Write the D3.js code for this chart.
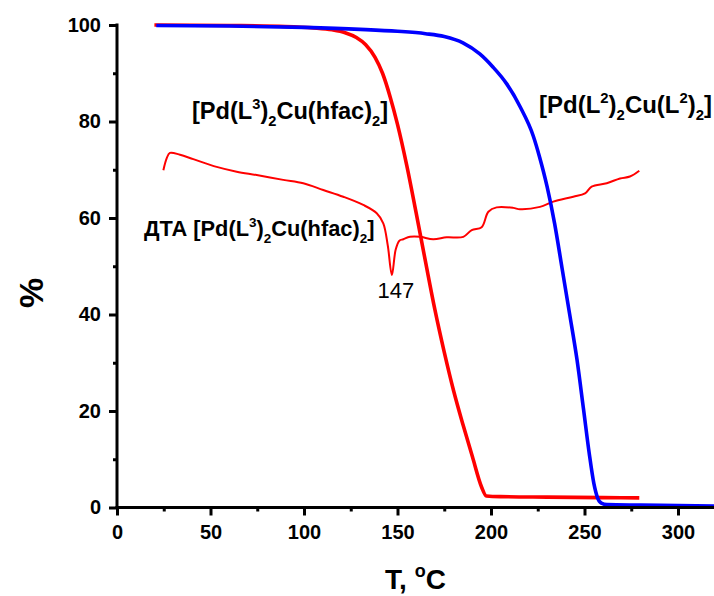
<!DOCTYPE html>
<html>
<head>
<meta charset="utf-8">
<script src="https://cdn.jsdelivr.net/npm/d3@7"></script>
<style>
  html, body { margin: 0; padding: 0; background: #fff; }
  svg { display: block; }
  text { font-family: "Liberation Sans", Arial, sans-serif; fill: #000; }
</style>
</head>
<body>
<svg id="chart" width="714" height="596"></svg>
<script>
// TG curve of [Pd(L3)2Cu(hfac)2]: temperature (°C) and mass (%)
const tgL3Temp = [20, 60, 90, 105, 115, 122, 128, 133, 138, 142, 146, 150, 155, 160, 165, 170, 175, 180, 185, 190, 195, 197.5, 205, 230, 260, 279.3];
const tgL3Mass = [100, 99.9, 99.7, 99.4, 99.0, 98.4, 97.4, 95.9, 93.3, 90.0, 85.2, 79.4, 70.8, 61.0, 50.9, 41.0, 32.2, 24.2, 17.2, 10.6, 4.2, 2.4, 2.25, 2.15, 2.05, 2.0];

// TG curve of [Pd(L2)2Cu(L2)2]
const tgL2Temp = [21, 60, 100, 130, 150, 165, 175, 185, 194, 201, 208.4, 215.5, 222.6, 226, 230, 234, 238, 242, 246, 249.5, 252.5, 255, 257, 259, 262, 280, 300, 320];
const tgL2Mass = [99.9, 99.8, 99.5, 99.1, 98.7, 98.2, 97.6, 96.3, 94.0, 91.3, 87.8, 83.1, 77.0, 72.6, 66.5, 58.9, 49.6, 40.2, 30.6, 20.3, 11.3, 5.0, 2.0, 0.9, 0.6, 0.5, 0.4, 0.3];

// DTA trace of [Pd(L3)2Cu(hfac)2], plotted on the same % scale
const dtaTemp = [24.8, 26.6, 28.3, 33.7, 40.8, 53.3, 64, 74.7, 88.9, 99.6, 110.3, 121, 131.7, 138.9, 142.4, 144.8, 147, 149, 151, 153.1, 156.7, 162, 169.1, 176.3, 185.2, 189.7, 195, 198.6, 203, 211.9, 215.5, 226.2, 233.3, 244, 250.3, 253.8, 261.9, 269, 274.3, 279.3];
const dtaValue = [69.9, 72.4, 73.5, 73.1, 72.2, 70.6, 69.6, 68.9, 67.9, 67.2, 65.8, 64.4, 62.7, 61.0, 58.9, 54.3, 48.2, 53.4, 55.3, 55.6, 56.1, 56.1, 55.6, 56.0, 56.1, 57.5, 58.1, 61.3, 62.2, 62.1, 61.8, 62.3, 63.4, 64.4, 65.1, 66.5, 67.2, 68.2, 68.6, 69.8];

// Peak temperature of the DTA minimum
const dtaPeak = 147;

// Axis ticks
const xMajorTicks = [0, 50, 100, 150, 200, 250, 300];
const xMinorTicks = [25, 75, 125, 175, 225, 275];
const yMajorTicks = [0, 20, 40, 60, 80, 100];
const yMinorTicks = [10, 30, 50, 70, 90];

const svg = d3.select("#chart");

const x = d3.scaleLinear().domain([0, 320]).range([117, 715.4]);
const y = d3.scaleLinear().domain([0, 100]).range([507.5, 25]);

const zip = (a, b) => a.map((v, i) => [v, b[i]]);

// ---- curves ----
const lineSmooth = d3.line().x(d => x(d[0])).y(d => y(d[1])).curve(d3.curveMonotoneX);
const lineDta = d3.line().x(d => x(d[0])).y(d => y(d[1])).curve(d3.curveCatmullRom.alpha(0.5));

svg.append("path")
  .attr("d", lineDta(zip(dtaTemp, dtaValue)))
  .attr("fill", "none").attr("stroke", "#ff0000").attr("stroke-width", 2)
  .attr("stroke-linejoin", "round");

svg.append("path")
  .attr("d", lineSmooth(zip(tgL3Temp, tgL3Mass)))
  .attr("fill", "none").attr("stroke", "#ff0000").attr("stroke-width", 3.6)
  .attr("stroke-linejoin", "round");

svg.append("path")
  .attr("d", lineSmooth(zip(tgL2Temp, tgL2Mass)))
  .attr("fill", "none").attr("stroke", "#0000ff").attr("stroke-width", 3.6)
  .attr("stroke-linejoin", "round");

// ---- axes ----
const xAxis = svg.append("g").attr("transform", `translate(0,${y(0)})`);
xAxis.call(d3.axisBottom(x).tickValues(xMajorTicks).tickSize(8).tickPadding(9).tickFormat(d3.format("d")));
xAxis.append("g").call(d3.axisBottom(x).tickValues(xMinorTicks).tickSize(4).tickFormat(""));
xAxis.selectAll(".domain").remove();
xAxis.append("line").attr("x1", x(0) - 1.5).attr("x2", 714).attr("y1", 0).attr("y2", 0)
  .attr("stroke", "#000").attr("stroke-width", 3);

const yAxis = svg.append("g").attr("transform", `translate(${x(0)},0)`);
yAxis.call(d3.axisLeft(y).tickValues(yMajorTicks).tickSize(8).tickPadding(8).tickFormat(d3.format("d")));
yAxis.append("g").call(d3.axisLeft(y).tickValues(yMinorTicks).tickSize(4).tickFormat(""));
yAxis.selectAll(".domain").remove();
yAxis.append("line").attr("x1", 0).attr("x2", 0).attr("y1", y(100) - 1.5).attr("y2", y(0) + 1.5)
  .attr("stroke", "#000").attr("stroke-width", 3);

svg.selectAll(".tick line").attr("stroke", "#000").attr("stroke-width", 3);
svg.selectAll(".tick text")
  .attr("font-family", "'Liberation Sans', Arial, sans-serif")
  .attr("font-size", 20).attr("font-weight", "bold").attr("fill", "#000");

// ---- axis titles ----
const xTitle = svg.append("text")
  .attr("x", (x(0) + 714) / 2).attr("y", 589)
  .attr("text-anchor", "middle").attr("font-size", 28).attr("font-weight", "bold");
xTitle.append("tspan").text("T, ");
xTitle.append("tspan").attr("font-size", 18).attr("dy", -12).text("o");
xTitle.append("tspan").attr("dy", 12).text("C");

svg.append("text")
  .attr("transform", "translate(43,293) rotate(-90)")
  .attr("text-anchor", "middle").attr("font-size", 34).attr("font-weight", "bold")
  .text("%");

// ---- formula labels with super/subscripts ----
function formula(xPos, yPos, size, parts) {
  const t = svg.append("text").attr("x", xPos).attr("y", yPos)
    .attr("font-size", size).attr("font-weight", "bold");
  let shift = 0;
  parts.forEach(p => {
    const target = p.sup ? -size * 0.42 : p.sub ? size * 0.3 : 0;
    t.append("tspan")
      .attr("dy", target - shift)
      .attr("font-size", (p.sup || p.sub) ? size * 0.62 : size)
      .text(p.t);
    shift = target;
  });
  return t;
}

formula(192, 119, 23.6, [
  {t: "[Pd(L"}, {t: "3", sup: true}, {t: ")"}, {t: "2", sub: true},
  {t: "Cu(hfac)"}, {t: "2", sub: true}, {t: "]"}
]);

formula(144, 236, 21.8, [
  {t: "ДТА [Pd(L"}, {t: "3", sup: true}, {t: ")"}, {t: "2", sub: true},
  {t: "Cu(hfac)"}, {t: "2", sub: true}, {t: "]"}
]);

formula(539, 113, 24, [
  {t: "[Pd(L"}, {t: "2", sup: true}, {t: ")"}, {t: "2", sub: true},
  {t: "Cu(L"}, {t: "2", sup: true}, {t: ")"}, {t: "2", sub: true}, {t: "]"}
]);

// peak temperature under the DTA minimum
svg.append("text")
  .attr("x", x(dtaPeak) + 4).attr("y", 298)
  .attr("text-anchor", "middle").attr("font-size", 22)
  .text(String(dtaPeak));
</script>
</body>
</html>
